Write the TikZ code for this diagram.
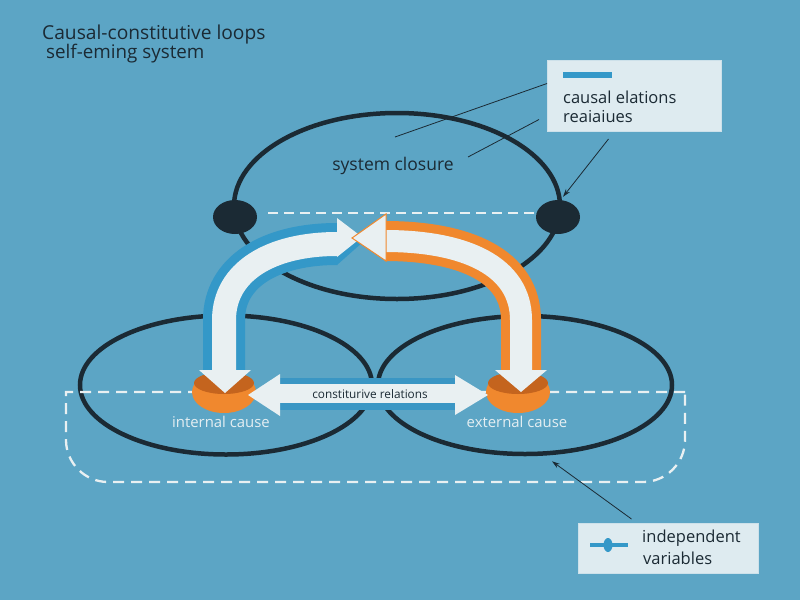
\documentclass[tikz,border=0pt]{standalone}
\usepackage{fontspec}
\setmainfont{Open Sans}
\usetikzlibrary{shapes.geometric,arrows.meta,calc}
\definecolor{bg}{RGB}{92,165,197}
\definecolor{dark}{RGB}{27,42,52}
\definecolor{arrblue}{RGB}{52,152,200}
\definecolor{conblue}{RGB}{58,150,196}
\definecolor{arrorange}{RGB}{240,136,46}
\definecolor{darkorange}{RGB}{196,100,30}
\definecolor{arrwhite}{RGB}{233,240,242}
\definecolor{legfill}{RGB}{222,235,240}
\definecolor{legedge}{RGB}{205,225,234}
\definecolor{lighttext}{RGB}{228,238,242}
\tikzset{
  ell/.style={ellipse, draw=dark, line width=4.5pt, inner sep=0pt},
  blackdot/.style={ellipse, fill=dark, inner sep=0pt, minimum width=44pt, minimum height=34pt},
  causenode/.style={ellipse, fill=arrorange, inner sep=0pt, minimum width=64pt, minimum height=42pt},
  dashline/.style={draw=arrwhite, line width=2.3pt, dash pattern=on 11pt off 7pt},
  leader/.style={draw=dark, line width=0.8pt},
  legendbox/.style={fill=legfill, draw=legedge, line width=1pt, inner sep=0pt, anchor=north west},
  darktext/.style={text=dark, inner sep=0pt},
  lighttxt/.style={text=lighttext, inner sep=0pt},
}
\begin{document}
\begin{tikzpicture}[x=1pt,y=-1pt]
\fill[bg] (0,0) rectangle (800,600);
\useasboundingbox (0,0) rectangle (800,600);

% title
\node[darktext, anchor=west, font=\fontsize{19.2}{22}\selectfont] (title1) at (42,35) {Causal-constitutive loops};
\node[darktext, anchor=west, font=\fontsize{18.8}{22}\selectfont] (title2) at (46,54) {self-eming system};

% ellipses
\node[ell, minimum width=326pt, minimum height=186pt] (closure) at (397,206) {};
\node[ell, minimum width=292pt, minimum height=139pt] (lowL) at (226,385) {};
\node[ell, minimum width=294pt, minimum height=138pt] (lowR) at (525,385) {};

% dashed boundaries
\draw[dashline] (685,392) -- (66,392) -- (66,440) .. controls (66,463) and (85,482) .. (108,482)
  -- (643,482) .. controls (666,482) and (685,463) .. (685,440) -- cycle;
\draw[draw=arrwhite, line width=2.2pt, dash pattern=on 10pt off 6pt] (268,213) -- (537,213);

% dots
\node[blackdot] (dotL) at (235,217) {};
\node[blackdot] (dotR) at (558,217) {};

\node[darktext, font=\fontsize{17.5}{20}\selectfont] (closurelbl) at (393,166) {system closure};

% cause nodes
\node[causenode] (icause) at (224,392) {};
\fill[darkorange] (224,383) ellipse [x radius=30pt, y radius=11pt];
\node[causenode] (ecause) at (518,392) {};
\fill[darkorange] (518,383) ellipse [x radius=30pt, y radius=11pt];

% blue arc arrow
\draw[arrblue, line width=42pt] (337,244) .. controls (270,244) and (224,272) .. (224,320) -- (224,371);
\draw[arrwhite, line width=24pt] (337,244) .. controls (270,244) and (224,272) .. (224,320) -- (224,371);
\fill[arrblue] (337,224) -- (364,241) -- (337,265) -- cycle;
\fill[arrwhite] (337,218) -- (362,237) -- (337,257) -- cycle;
\fill[arrwhite] (199,370) -- (251,370) -- (225,393) -- cycle;

% orange arc arrow
\draw[arrorange, line width=40pt] (385,241) .. controls (465,241) and (521,266) .. (521,320) -- (521,371);
\draw[arrwhite, line width=22pt] (385,241) .. controls (465,241) and (521,266) .. (521,320) -- (521,371);
\filldraw[fill=arrwhite, draw=arrorange, line width=1pt] (386,214) -- (352,238) -- (386,261) -- cycle;
\fill[arrwhite] (495,370) -- (547,370) -- (521,392) -- cycle;

% constitutive relations double arrow
\fill[conblue] (280,378) rectangle (455,410);
\fill[arrwhite] (280,384) rectangle (455,403);
\fill[arrwhite] (280,374) -- (248,395) -- (280,416) -- cycle;
\fill[arrwhite] (455,375) -- (488,395) -- (455,415) -- cycle;
\node[darktext, font=\fontsize{11.8}{14}\selectfont] (conlbl) at (370,394) {constiturive relations};

% cause labels
\node[lighttxt, font=\fontsize{14.9}{18}\selectfont] (ilbl) at (221,422) {internal cause};
\node[lighttxt, font=\fontsize{14.9}{18}\selectfont] (elbl) at (517,422) {external cause};

% top legend
\node[legendbox, minimum width=174pt, minimum height=71pt] (legA) at (547,60) {};
\fill[arrblue] (563,72) rectangle (612,78);
\node[darktext, anchor=west, font=\fontsize{16.5}{19}\selectfont] (legA1) at (563,97) {causal elations};
\node[darktext, anchor=west, font=\fontsize{16.5}{19}\selectfont] (legA2) at (563,117) {reaiaiues};
\coordinate (endA1) at (395,137);
\coordinate (endA2) at (468,157);
\draw[leader] ([yshift=12.5pt]legA.west) -- (endA1);
\draw[leader] ([xshift=-8pt,yshift=-23.5pt]legA.west) -- (endA2);
\draw[leader, -{Stealth[length=8pt,width=5pt]}] ([xshift=-26pt,yshift=-7pt]legA.south) -- ([xshift=5pt,yshift=3pt]dotR.north);

% bottom legend
\node[legendbox, minimum width=180pt, minimum height=50pt] (legB) at (578,523) {};
\draw[arrblue, line width=4pt] (590,545) -- (628,545);
\fill[arrblue] (608,545) ellipse [x radius=4.5pt, y radius=7pt];
\node[darktext, anchor=west, font=\fontsize{16.5}{20}\selectfont] (legB1) at (642,538) {independent};
\node[darktext, anchor=west, font=\fontsize{16.5}{20}\selectfont] (legB2) at (643,558) {variables};
\draw[leader, -{Stealth[length=8pt,width=5pt]}] ([xshift=-37pt,yshift=4pt]legB.north) -- ([xshift=27pt,yshift=-5pt]lowR.south);
\end{tikzpicture}
\end{document}
